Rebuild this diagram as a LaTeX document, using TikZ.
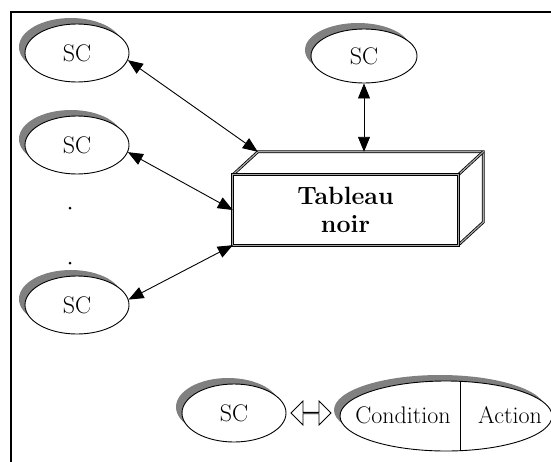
\documentclass[tikz,border=0pt]{standalone}
\usepackage{tikz}
\usetikzlibrary{shapes,arrows.meta,positioning,shadows}

\begin{document}
\begin{tikzpicture}[x=1pt, y=-1pt,
    txt/.style={font=\fontsize{24}{28}\selectfont},
    sc/.style={ellipse, draw, line width=0.9pt, fill=white, minimum width=104pt, minimum height=58pt, txt,
        drop shadow={shadow xshift=-6pt, shadow yshift=6pt, fill=black!50, opacity=1}},
    link/.style={{Triangle[length=15pt, width=12pt]}-{Triangle[length=15pt, width=12pt]}, line width=0.9pt},
    edge3d/.style={draw, line width=0.8pt, double=black!35, double distance=1.2pt}]
    \useasboundingbox (0,0) rectangle (551,461);
    \draw[line width=2pt] (552,12) -| (11,462);

    \node (scA) [sc] at (77,53) {SC};
    \node (scB) [sc] at (77,145) {SC};
    \node (scC) [sc] at (77,305) {SC};
    \node (scTop) [sc, minimum width=106pt, minimum height=54pt] at (364,56) {SC};
    \fill (70,208) circle (1.5pt);
    \fill (70,263) circle (1.5pt);

    \node (board) [rectangle, minimum width=225pt, minimum height=70pt, align=center, font=\bfseries\fontsize{25}{28}\selectfont] at (345.5,210) {Tableau\\noir};
    \coordinate (backNW) at ([shift={(25,-23)}]board.north west);
    \draw[edge3d] (board.north west) -- (backNW) -- ([shift={(25,-23)}]board.north east) -- ([shift={(25,-23)}]board.south east) -- (board.south east);
    \draw[edge3d] (board.north east) -- ++(25,-23);
    \draw[edge3d] (board.north west) rectangle (board.south east);

    \draw[link] (scA.-8) -- (backNW);
    \draw[link] (scB.-8) -- (board.west);
    \draw[link] (scC.6) -- (board.south west);
    \draw[link] (scTop.south) -- (scTop.south |- backNW);

    \node (scD) [sc] at (234,413) {SC};
    \node (swap) [double arrow, draw, line width=0.8pt, fill=white, inner sep=0pt, minimum height=40pt, minimum width=24pt, double arrow head extend=7pt, right=4pt of scD] {};
    \node (rule) [sc, minimum width=212pt, minimum height=70pt] at (446,416) {};
    \draw[line width=0.9pt] ([xshift=14pt]rule.north) -- ([xshift=14pt]rule.south);
    \node (cond) [txt, anchor=base] at (403,423) {Condition};
    \node (act) [txt, anchor=base] at (510,423) {Action};
\end{tikzpicture}
\end{document}
